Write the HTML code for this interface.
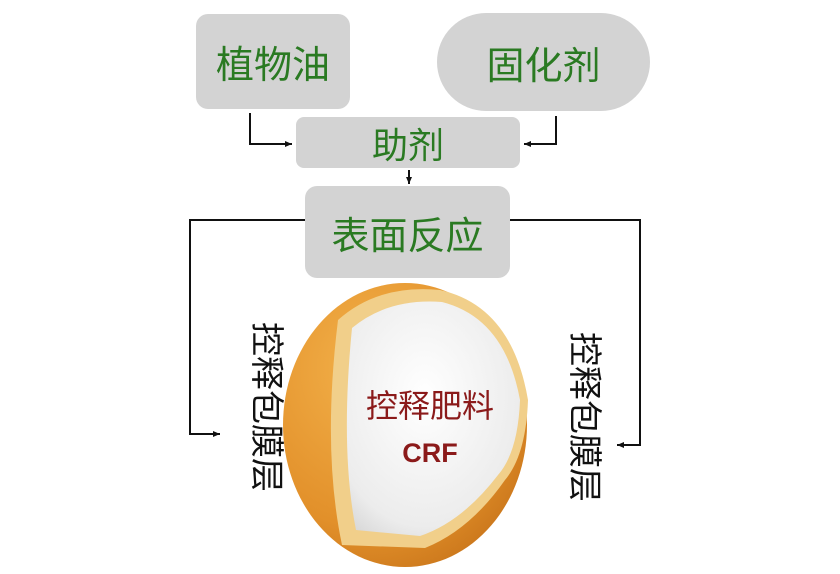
<!DOCTYPE html>
<html><head><meta charset="utf-8"><style>
body{margin:0;width:840px;height:574px;background:#fff;position:relative;overflow:hidden;font-family:"Liberation Sans","Noto Sans CJK SC",sans-serif}
.b{position:absolute;background:#d3d3d3;display:flex;align-items:center;justify-content:center;color:#2a7a22;font-family:"Noto Sans CJK SC",sans-serif}
.v{position:absolute;writing-mode:vertical-rl;text-orientation:sideways;font-family:"Noto Sans CJK SC",sans-serif;font-size:34px;color:#111;line-height:1}
</style></head><body>
<svg width="840" height="574" style="position:absolute;left:0;top:0">
<defs>
<radialGradient id="o" cx="0.35" cy="0.3" r="0.8"><stop offset="0" stop-color="#f3b14a"/><stop offset="0.7" stop-color="#e2902a"/><stop offset="1" stop-color="#c8741a"/></radialGradient>
<radialGradient id="w" cx="0.45" cy="0.4" r="0.7"><stop offset="0" stop-color="#ffffff"/><stop offset="0.8" stop-color="#ececec"/><stop offset="1" stop-color="#d8d8d8"/></radialGradient>
<marker id="a" markerWidth="8" markerHeight="8" refX="7" refY="4" orient="auto" markerUnits="userSpaceOnUse"><path d="M0,1 L7,4 L0,7 z" fill="#111"/></marker>
</defs>
<g stroke="#111" stroke-width="2" fill="none">
<polyline points="250,113 250,144 292,144" marker-end="url(#a)"/>
<polyline points="556,116 556,144 524,144" marker-end="url(#a)"/>
<polyline points="409,170 409,184" marker-end="url(#a)"/>
<polyline points="305,220 190,220 190,434 220,434" marker-end="url(#a)"/>
<polyline points="510,220 640,220 640,445 617,445" marker-end="url(#a)"/>
</g>
<ellipse cx="405" cy="425" rx="122" ry="142" fill="url(#o)"/>
<path d="M338 320 Q378 284 440 290 Q512 306 528 400 Q526 455 505 480 Q470 530 425 548 L342 545 Q322 450 338 320 Z" fill="#f1cf8a"/>
<path d="M352 328 Q388 298 442 302 Q505 318 520 400 Q518 452 498 475 Q462 522 420 536 L356 530 Q340 450 352 328 Z" fill="url(#w)"/>
</svg>
<div class="b" style="left:196px;top:14px;width:154px;height:95px;border-radius:12px;font-size:38px">植物油</div>
<div class="b" style="left:437px;top:13px;width:213px;height:98px;border-radius:49px;font-size:38px">固化剂</div>
<div class="b" style="left:296px;top:117px;width:224px;height:51px;border-radius:8px;font-size:36px">助剂</div>
<div class="b" style="left:305px;top:186px;width:205px;height:92px;border-radius:12px;font-size:38px">表面反应</div>
<div style="position:absolute;left:360px;top:388px;width:140px;text-align:center;color:#8b1a1a;font-family:'Noto Sans CJK SC',sans-serif;font-size:32px;line-height:1">控释肥料</div>
<div style="position:absolute;left:360px;top:440px;width:140px;text-align:center;color:#8b1a1a;font-weight:bold;font-size:27px;line-height:1">CRF</div>
<div class="v" style="left:252px;top:322px">控释包膜层</div>
<div class="v" style="left:570px;top:332px">控释包膜层</div>
</body></html>
